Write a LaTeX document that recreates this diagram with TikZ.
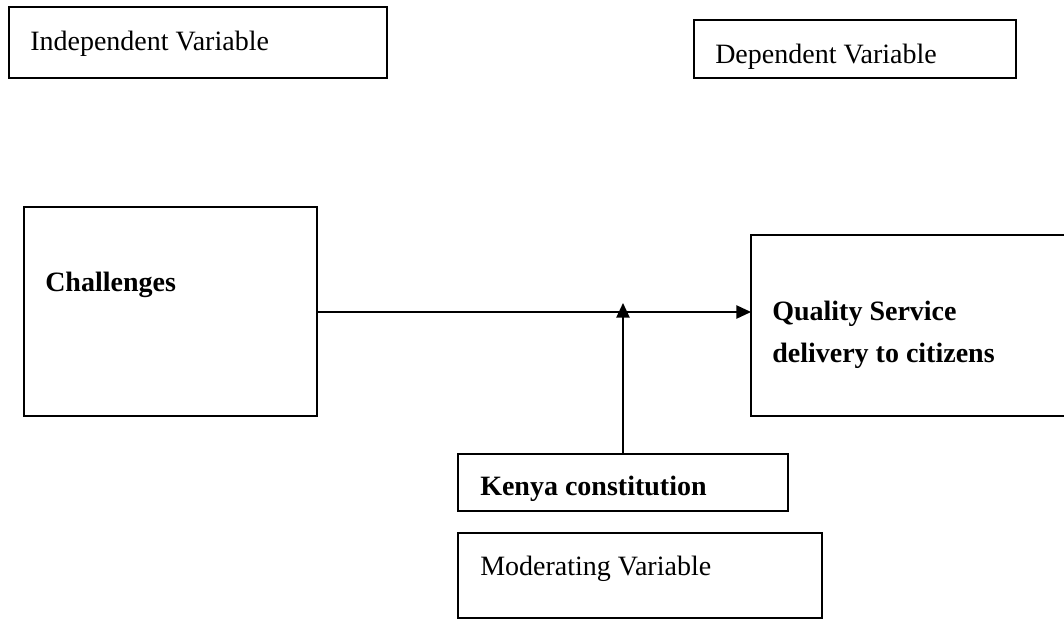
\documentclass[tikz,border=0pt]{standalone}
\usepackage{fontspec}
\setmainfont{Liberation Serif}
\usetikzlibrary{arrows.meta}
\begin{document}
\begin{tikzpicture}[x=0.75pt,y=-0.75pt,
  boxst/.style={draw=black,line width=1.1pt},
  lbl/.style={anchor=base west,inner sep=0pt,font=\fontsize{21}{25}\selectfont},
  blbl/.style={lbl,font=\fontsize{21}{25}\selectfont\bfseries},
  conn/.style={line width=1.1pt,-{Triangle[length=11pt,width=10pt]}}]
\useasboundingbox (0,0) rectangle (1064,621);
% boxes
\draw[boxst] (9,7) rectangle (387,78);
\draw[boxst] (694,20) rectangle (1016,78);
\draw[boxst] (24,207) rectangle (317,416);
\draw[boxst] (751,235) rectangle (1075,416);
\draw[boxst] (458,454) rectangle (788,511);
\draw[boxst] (458,533) rectangle (822,618);
\coordinate (chR) at (317,312);
\coordinate (qsL) at (751,312);
\coordinate (kcT) at (623,454);
\coordinate (mid) at (623,303);
% texts
\node[lbl] (ind) at (30,50) {Independent Variable};
\node[lbl] (dep) at (715,63) {Dependent Variable};
\node[blbl] (ch) at (45,291) {Challenges};
\node[blbl] (qs1) at (772,320) {Quality Service};
\node[blbl] (qs2) at (772,362) {delivery to citizens};
\node[blbl] (kc) at (480,495) {Kenya constitution};
\node[lbl] (mv) at (480,575) {Moderating Variable};
% connectors
\draw[conn] (chR) -- (qsL);
\draw[conn] (kcT) -- (mid);
\end{tikzpicture}
\end{document}
